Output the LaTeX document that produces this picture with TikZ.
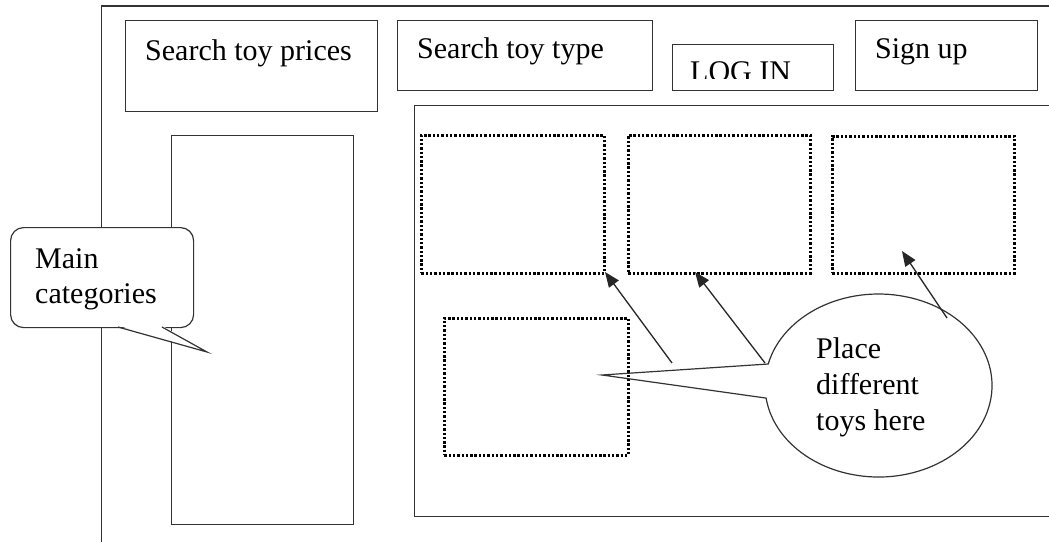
\documentclass[tikz,border=0pt]{standalone}
\usepackage{fontspec}
\setmainfont{Liberation Serif}
\usetikzlibrary{arrows.meta}
\begin{document}
\begin{tikzpicture}[x=1pt,y=-1pt,
  frame/.style={draw=black!80,line width=1.4pt},
  box/.style={frame,rectangle,inner sep=0pt,anchor=north west},
  slot/.style={draw=black,line width=2.6pt,dash pattern=on 2.4pt off 1.9pt,rectangle,inner sep=0pt,anchor=north west},
  lbl/.style={anchor=base west,inner sep=0pt,font=\fontsize{30}{35}\selectfont},
  bubble/.style={draw=black!80,line width=1.2pt},
  pointer/.style={draw=black!85,line width=1.3pt,-{Triangle[length=15pt,width=12pt]}}]
\clip (0,0) rectangle (1049,541);
\fill[white] (0,0) rectangle (1049,541);
% outer frame
\coordinate (ftr) at (1070,6);
\coordinate (ftl) at (101.7,6);
\coordinate (fbl) at (101.7,560);
\draw[frame] (ftr) -- (ftl) -- (fbl);
% top boxes
\node[box,minimum width=252pt,minimum height=91pt] (prices) at (125,20) {};
\node[box,minimum width=255pt,minimum height=70pt] (type) at (397,20) {};
\node[box,minimum width=161pt,minimum height=46pt] (login) at (672,44) {};
\node[box,minimum width=182pt,minimum height=70pt] (signup) at (855,20) {};
\node[lbl] (tprices) at (145,60) {Search toy prices};
\node[lbl] (ttype) at (417,58) {Search toy type};
\begin{scope}
  \clip (672,44) rectangle (833,78);
  \node[lbl] (tlogin) at (690,81) {LOG IN};
\end{scope}
\node[lbl] (tsignup) at (875,58) {Sign up};
% categories column and content area
\node[box,minimum width=182pt,minimum height=389pt] (cats) at (171,135) {};
\node[box,minimum width=660pt,minimum height=411pt] (content) at (414,105) {};
% toy slots
\node[slot,minimum width=183pt,minimum height=138pt] (slot1) at (420,134) {};
\node[slot,minimum width=182pt,minimum height=138pt] (slot2) at (627,134) {};
\node[slot,minimum width=182pt,minimum height=137pt] (slot3) at (831,135) {};
\node[slot,minimum width=184pt,minimum height=137pt] (slot4) at (443,317) {};
% main categories callout
\node[bubble,fill=white,rounded corners=13pt,rectangle,inner sep=0pt,anchor=north west,minimum width=183pt,minimum height=100pt] (mc) at (10,227) {};
\coordinate (mctip) at (207,352);
\coordinate (mcb1) at (118,327);
\coordinate (mcb2) at (162,327);
\fill[white] (118,325.6) -- (mctip) -- (162,325.6) -- cycle;
\draw[bubble] (mcb1) -- (mctip) -- (mcb2);
\node[lbl] (tmain) at (35,268) {Main};
\node[lbl] (tcat) at (35,303) {categories};
% toys callout
\coordinate (pttip) at (602,375);
\coordinate (ptb1) at (768.2,364);
\draw[bubble] (pttip) -- (ptb1) arc[start angle=193.6, end angle=532.1, x radius=113.5, y radius=91.5] -- cycle;
\node[lbl] (tplace) at (816,358) {Place};
\node[lbl] (tdiff) at (816,394) {different};
\node[lbl] (ttoys) at (816,430) {toys here};
% arrows
\coordinate (a1s) at (672,363);
\coordinate (a1e) at (605,272);
\coordinate (a2s) at (765,363);
\coordinate (a2e) at (695,272);
\coordinate (a3s) at (947,318);
\coordinate (a3e) at (902,251);
\draw[pointer] (a1s) -- (a1e);
\draw[pointer] (a2s) -- (a2e);
\draw[pointer] (a3s) -- (a3e);
\end{tikzpicture}
\end{document}
